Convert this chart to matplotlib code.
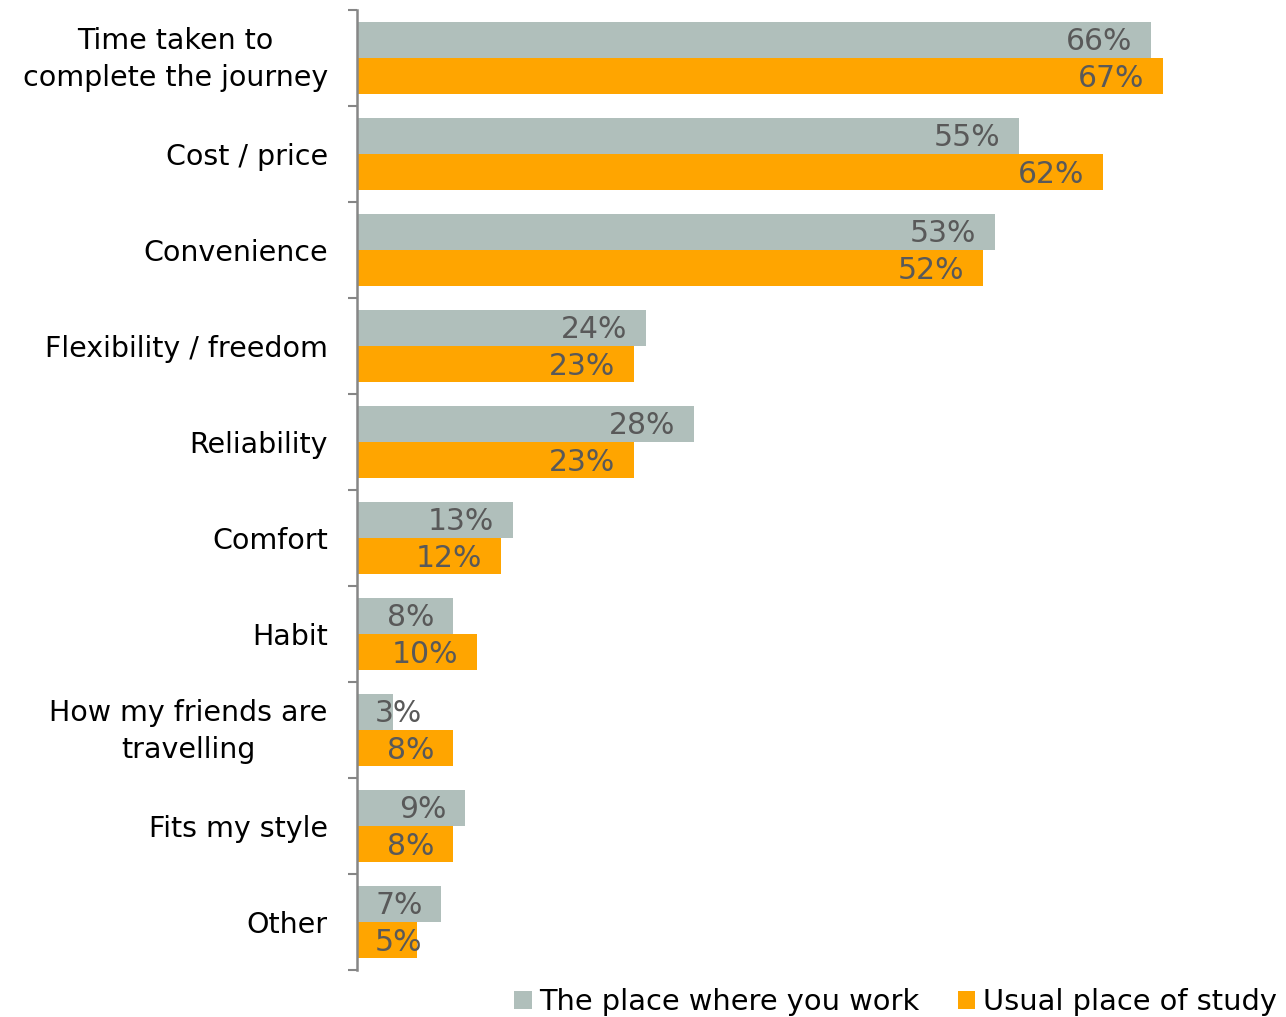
import matplotlib
matplotlib.use("Agg")
import matplotlib.pyplot as plt
from matplotlib.patches import Patch
from matplotlib.transforms import ScaledTranslation
import numpy as np

categories = ["Time taken to\ncomplete the journey", "Cost / price", "Convenience",
              "Flexibility / freedom", "Reliability", "Comfort", "Habit",
              "How my friends are\ntravelling", "Fits my style", "Other"]
work = [66, 55, 53, 24, 28, 13, 8, 3, 9, 7]
study = [67, 62, 52, 23, 23, 12, 10, 8, 8, 5]
series_names = ["The place where you work", "Usual place of study"]

GRAY = "#B0BFBB"
ORANGE = "#FFA500"
LABEL_C = "#595959"

plt.rcParams['font.family'] = ['DejaVu Sans']

fig = plt.figure(figsize=(12.86, 10.17), dpi=100)
ax = fig.add_axes([357/1286, 47/1017, 929/1286, 960/1017])

n = len(categories)
y = np.arange(n)
h = 0.38
ax.barh(y - h/2, work, height=h, color=GRAY, edgecolor='none')
ax.barh(y + h/2, study, height=h, color=ORANGE, edgecolor='none')

ax.set_xlim(0, 77.2)
ax.set_ylim(n - 0.5, -0.5)

pad = 1.58
VFS = 21.5
for vals, off in ((work, -h/2), (study, h/2)):
    for i, v in enumerate(vals):
        txt = f"{v}%"
        if v - pad < 5.5:
            ax.text(1.5, i + off + 0.02, txt, ha='left', va='center', fontsize=VFS, color=LABEL_C)
        else:
            ax.text(v - pad, i + off + 0.02, txt, ha='right', va='center', fontsize=VFS, color=LABEL_C)

# ticks at boundaries, labels at centres
ax.set_yticks(np.arange(-0.5, n, 1.0))
ax.set_yticklabels([])
ax.set_yticks(y, minor=True)
ax.set_yticklabels(categories, minor=True, fontsize=20.5, multialignment='center', linespacing=1.4)
ax.tick_params(axis='y', which='major', length=6.5, width=1.5, color='#868686', direction='out')
ax.tick_params(axis='y', which='minor', length=0, pad=21)
ax.set_xticks([])
for s in ('top', 'right', 'bottom'):
    ax.spines[s].set_visible(False)
ax.spines['left'].set_color('#868686')
ax.spines['left'].set_linewidth(1.8)

for lbl in ax.get_yticklabels(minor=True):
    if '\n' in lbl.get_text():
        lbl.set_transform(lbl.get_transform() + ScaledTranslation(0, 5.5/100, fig.dpi_scale_trans))

handles = [Patch(facecolor=GRAY, label=series_names[0]), Patch(facecolor=ORANGE, label=series_names[1])]
fig.legend(handles=handles, loc='lower right', bbox_to_anchor=(1.013, -0.025), ncol=2, frameon=False,
           fontsize=20.8, handlelength=0.6, handleheight=0.6, handletextpad=0.25, columnspacing=1.35)

fig.savefig("out.png", dpi=100)
